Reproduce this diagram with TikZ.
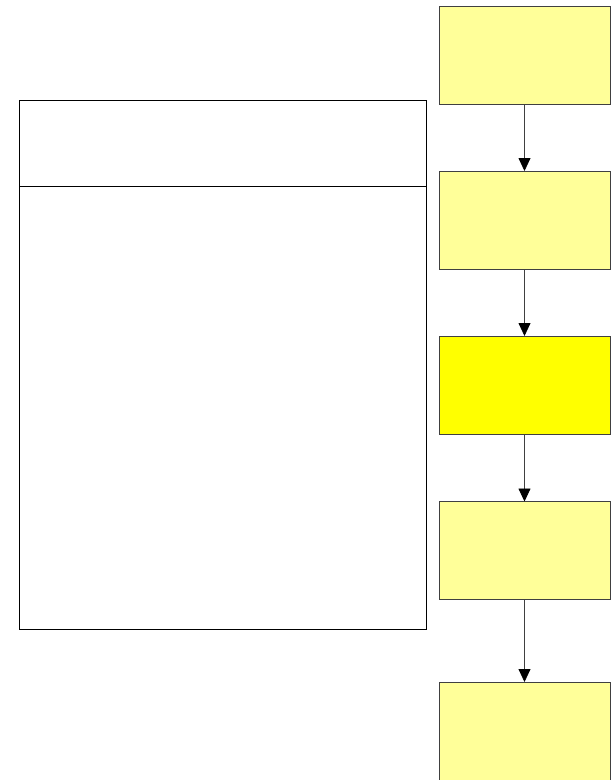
\documentclass[tikz,border=0pt]{standalone}
\usetikzlibrary{arrows.meta}
\definecolor{lightyel}{HTML}{FFFF99}
\definecolor{brightyel}{HTML}{FFFF00}
\definecolor{edgegrey}{HTML}{404040}
\begin{document}
\begin{tikzpicture}[x=1pt,y=-1pt,
  flowbox/.style={draw=edgegrey,line width=0.9pt,fill=lightyel,minimum width=171pt,minimum height=98pt,inner sep=0pt,outer sep=0pt},
  hotbox/.style={flowbox,fill=brightyel},
  link/.style={draw=edgegrey,line width=0.8pt,-{Triangle[width=12pt,length=13pt,fill=black,color=black]}},
  panel/.style={draw=black,line width=0.9pt}]
\useasboundingbox (0,0) rectangle (616,780);
\fill[white] (0,0) rectangle (616,780);
\node[flowbox] (b1) at (524.5,55) {};
\node[flowbox] (b2) at (524.5,220) {};
\node[hotbox] (b3) at (524.5,385) {};
\node[flowbox] (b4) at (524.5,550.5) {};
\node[flowbox] (b5) at (524.5,731) {};
\draw[link] (b1) -- (b2);
\draw[link] (b2) -- (b3);
\draw[link] (b3) -- (b4);
\draw[link] (b4) -- (b5);
\node[panel,minimum width=407pt,minimum height=86pt,inner sep=0pt,outer sep=0pt] (head) at (222.5,143) {};
\node[panel,minimum width=407pt,minimum height=443pt,inner sep=0pt,outer sep=0pt] (body) at (222.5,407.5) {};
\end{tikzpicture}
\end{document}
